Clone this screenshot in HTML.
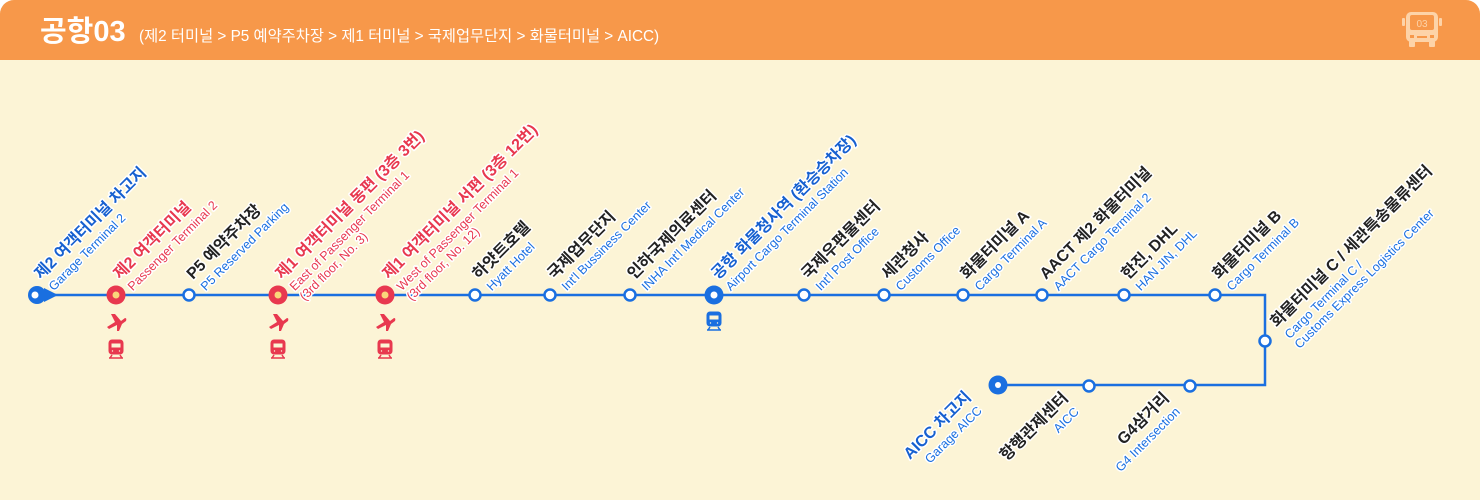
<!DOCTYPE html>
<html><head><meta charset="utf-8"><style>
html,body{margin:0;padding:0;background:#fff}
.wrap{width:1480px;height:500px;position:relative;overflow:hidden;background:#FCF4D6;border-radius:14px 14px 0 0}
svg{position:absolute;left:0;top:0}
.k{font-family:"Liberation Sans","Noto Sans CJK KR",sans-serif;font-size:16px;font-weight:bold;fill:#222;stroke:#fff;stroke-width:3;paint-order:stroke;stroke-linejoin:round}
.e{font-family:"Liberation Sans","Noto Sans CJK KR",sans-serif;font-size:12.5px;fill:#1A6FE0;stroke:#fff;stroke-width:3;paint-order:stroke;stroke-linejoin:round}
.kb{fill:#1660D0}.kr{fill:#E8384F}.er{fill:#E8384F}
</style></head><body><div class="wrap">
<svg width="1480" height="500" viewBox="0 0 1480 500">
<rect x="0" y="0" width="1480" height="60" fill="#F7984A"/>
<text x="40" y="41" font-family="'Liberation Sans','Noto Sans CJK KR',sans-serif" font-size="29" font-weight="bold" fill="#fff">공항03</text>
<text x="139" y="41" font-family="'Liberation Sans','Noto Sans CJK KR',sans-serif" font-size="15.3" fill="#fff">(제2 터미널 &gt; P5 예약주차장 &gt; 제1 터미널 &gt; 국제업무단지 &gt; 화물터미널 &gt; AICC)</text>
<!-- bus icon -->
<g fill="#FDD3A8">
<rect x="1406" y="12" width="32" height="30" rx="5"/>
<rect x="1402" y="18" width="3" height="8" rx="1"/><rect x="1439" y="18" width="3" height="8" rx="1"/>
<rect x="1409" y="41" width="6" height="6" rx="1"/><rect x="1429" y="41" width="6" height="6" rx="1"/>
</g>
<rect x="1410" y="15" width="24" height="15" rx="2" fill="#F7984A"/>
<text x="1422" y="27" text-anchor="middle" font-family="'Liberation Sans',sans-serif" font-size="10" fill="#FDD3A8">03</text>
<rect x="1410" y="35" width="4" height="3" fill="#F7984A"/><rect x="1430" y="35" width="4" height="3" fill="#F7984A"/><rect x="1417" y="36" width="10" height="2" fill="#F7984A"/>

<!-- lines -->
<polyline points="44,295 1265,295 1265,385 998,385" fill="none" stroke="#1A6FE0" stroke-width="2.5"/>
<!-- start -->
<circle cx="37" cy="295" r="9" fill="#1A6FE0"/><circle cx="35" cy="295" r="3.5" fill="#fff"/>
<polygon points="44,288 58,295 44,302" fill="#1A6FE0"/>
<!-- red nodes -->
<g fill="#E8384F"><circle cx="116" cy="295" r="9.5"/><circle cx="278" cy="295" r="9.5"/><circle cx="385" cy="295" r="9.5"/></g>
<g fill="#FAD67A"><circle cx="116" cy="295" r="3.5"/><circle cx="278" cy="295" r="3.5"/><circle cx="385" cy="295" r="3.5"/></g>
<!-- white nodes -->
<g fill="#fff" stroke="#1A6FE0" stroke-width="2.5">
<circle cx="189" cy="295" r="5.5"/><circle cx="475" cy="295" r="5.5"/><circle cx="550" cy="295" r="5.5"/><circle cx="630" cy="295" r="5.5"/>
<circle cx="804" cy="295" r="5.5"/><circle cx="884" cy="295" r="5.5"/><circle cx="963" cy="295" r="5.5"/><circle cx="1042" cy="295" r="5.5"/>
<circle cx="1124" cy="295" r="5.5"/><circle cx="1215" cy="295" r="5.5"/><circle cx="1265" cy="341" r="5.5"/>
<circle cx="1089" cy="386" r="5.5"/><circle cx="1190" cy="386" r="5.5"/>
</g>
<circle cx="714" cy="295" r="9.5" fill="#1A6FE0"/><circle cx="714" cy="295" r="3.5" fill="#fff"/>
<circle cx="998" cy="385" r="9.5" fill="#1A6FE0"/><circle cx="998" cy="385" r="3" fill="#fff"/>

<!-- icons -->
<defs>
<g id="plane"><path d="M-9,5 L-1,0 L-5,-8 L-1,-8 L5,-1 L9,-4 Q11,-4 10,-1 L6,2 L3,9 L1,9 L1,3 L-7,7 Z"/></g>
<g id="train"><rect x="-7" y="-9" width="14" height="14" rx="3"/><rect x="-5" y="-6" width="10" height="5" fill="#FCF4D6"/><circle cx="-3.5" cy="2" r="1.2" fill="#FCF4D6"/><circle cx="3.5" cy="2" r="1.2" fill="#FCF4D6"/><path d="M-6,9 L-4,6 M6,9 L4,6 M-7,9 L7,9" stroke-width="1.5" fill="none"/></g>
</defs>
<g fill="#E8384F" stroke="#E8384F">
<use href="#plane" x="116" y="322" stroke="none"/><use href="#plane" x="278" y="322" stroke="none"/><use href="#plane" x="385" y="322" stroke="none"/>
<use href="#train" x="116" y="349"/><use href="#train" x="278" y="349"/><use href="#train" x="385" y="349"/>
</g>
<g fill="#1A6FE0" stroke="#1A6FE0"><use href="#train" x="714" y="321"/></g>

<!-- top labels -->
<g transform="translate(41,280) rotate(-45)"><text class="k kb">제2 여객터미널 차고지</text><text class="e" x="1" y="17">Garage Terminal 2</text></g>
<g transform="translate(120,280) rotate(-45)"><text class="k kr">제2 여객터미널</text><text class="e er" x="1" y="17">Passenger Terminal 2</text></g>
<g transform="translate(193,280) rotate(-45)"><text class="k">P5 예약주차장</text><text class="e" x="1" y="17">P5 Reserved Parking</text></g>
<g transform="translate(282,280) rotate(-45)"><text class="k kr">제1 여객터미널 동편 (3층 3번)</text><text class="e er" x="1" y="17">East of Passenger Terminal 1</text><text class="e er" x="1" y="31">(3rd floor, No. 3)</text></g>
<g transform="translate(389,280) rotate(-45)"><text class="k kr">제1 여객터미널 서편 (3층 12번)</text><text class="e er" x="1" y="17">West of Passenger Terminal 1</text><text class="e er" x="1" y="31">(3rd floor, No. 12)</text></g>
<g transform="translate(479,280) rotate(-45)"><text class="k">하얏트호텔</text><text class="e" x="1" y="17">Hyatt Hotel</text></g>
<g transform="translate(554,280) rotate(-45)"><text class="k">국제업무단지</text><text class="e" x="1" y="17">Int'l Bussiness Center</text></g>
<g transform="translate(634,280) rotate(-45)"><text class="k">인하국제의료센터</text><text class="e" x="1" y="17">INHA Int'l Medical Center</text></g>
<g transform="translate(718,280) rotate(-45)"><text class="k kb">공항 화물청사역 (환승승차장)</text><text class="e" x="1" y="17">Airport Cargo Terminal Station</text></g>
<g transform="translate(808,280) rotate(-45)"><text class="k">국제우편물센터</text><text class="e" x="1" y="17">Int'l Post Office</text></g>
<g transform="translate(888,280) rotate(-45)"><text class="k">세관청사</text><text class="e" x="1" y="17">Customs Office</text></g>
<g transform="translate(967,280) rotate(-45)"><text class="k">화물터미널 A</text><text class="e" x="1" y="17">Cargo Terminal A</text></g>
<g transform="translate(1046,280) rotate(-45)"><text class="k">AACT 제2 화물터미널</text><text class="e" x="1" y="17">AACT Cargo Terminal 2</text></g>
<g transform="translate(1128,280) rotate(-45)"><text class="k">한진, DHL</text><text class="e" x="1" y="17">HAN JIN, DHL</text></g>
<g transform="translate(1219,280) rotate(-45)"><text class="k">화물터미널 B</text><text class="e" x="1" y="17">Cargo Terminal B</text></g>
<g transform="translate(1277,328) rotate(-45)"><text class="k">화물터미널 C / 세관특송물류센터</text><text class="e" x="1" y="17">Cargo Terminal C /</text><text class="e" x="1" y="31">Customs Express Logistics Center</text></g>

<!-- bottom labels -->
<g transform="translate(972,398) rotate(-45)"><text class="k kb" text-anchor="end">AICC 차고지</text><text class="e" text-anchor="end" x="-2" y="17">Garage AICC</text></g>
<g transform="translate(1069,399) rotate(-45)"><text class="k" text-anchor="end">항행관제센터</text><text class="e" text-anchor="end" x="-2" y="17">AICC</text></g>
<g transform="translate(1170,399) rotate(-45)"><text class="k" text-anchor="end">G4삼거리</text><text class="e" text-anchor="end" x="-2" y="17">G4 Intersection</text></g>
</svg>
</div></body></html>
